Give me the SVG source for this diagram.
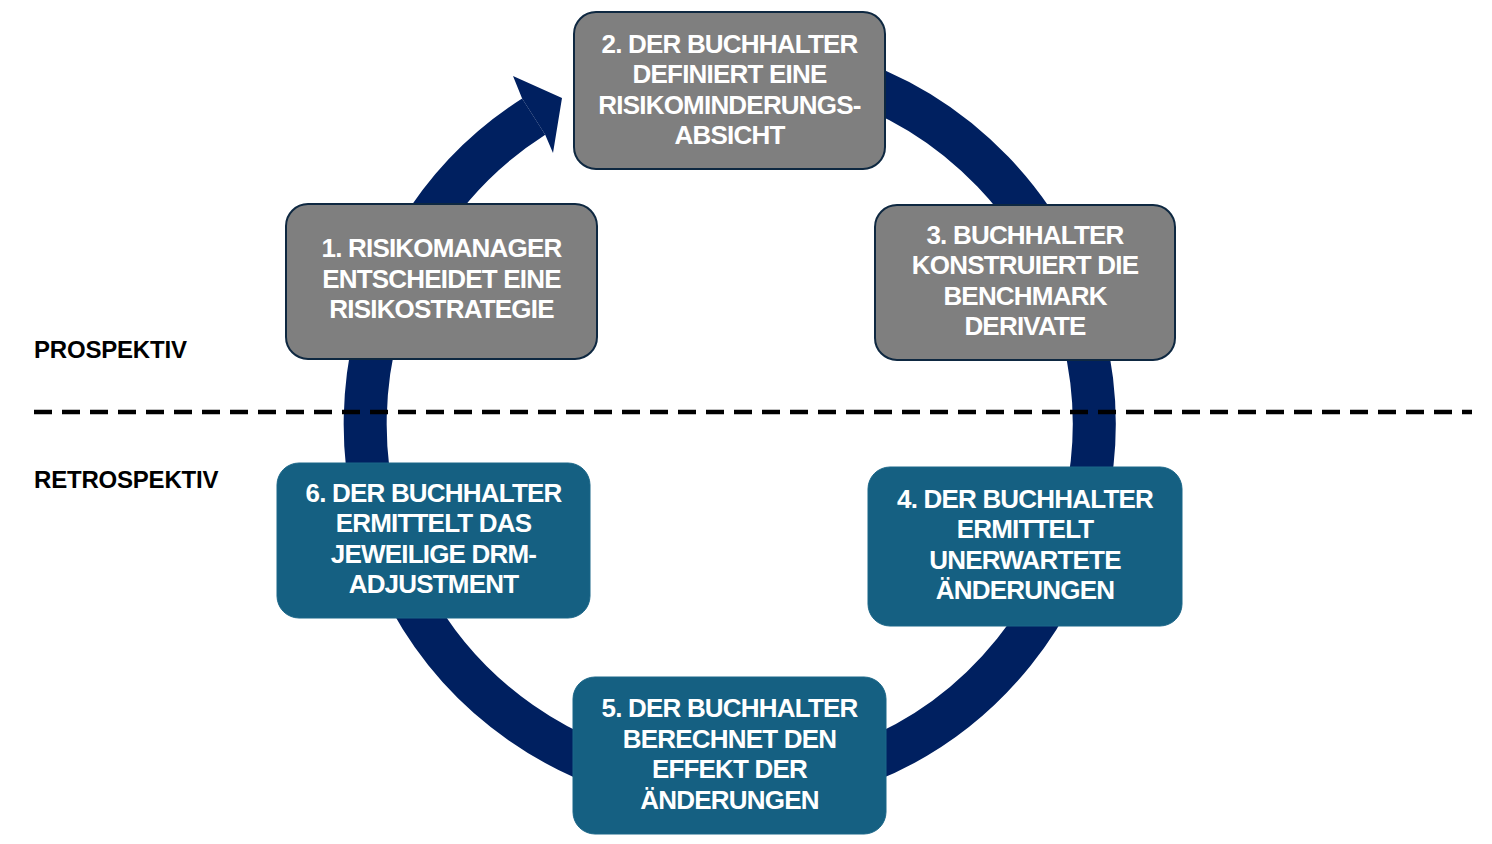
<svg xmlns="http://www.w3.org/2000/svg" width="1492" height="844" viewBox="0 0 1492 844">
<style>
.box-gray{fill:#7F7F7F;stroke:#0E2841;stroke-width:2}
.box-teal{fill:#156082;stroke:#1A6688;stroke-width:1}
.t{font-family:"Liberation Sans",Arial,sans-serif;font-weight:bold;font-size:26px;fill:#FFFFFF;text-anchor:middle;letter-spacing:-0.8px}
.lbl{font-family:"Liberation Sans",Arial,sans-serif;font-weight:bold;font-size:24px;fill:#000000;letter-spacing:-0.2px}
.ring{fill:none;stroke:#002060;stroke-width:43}
</style>
<rect width="1492" height="844" fill="#FFFFFF"/>
<g id="connectors">
<path class="ring" d="M 666.2 65.0 A 364.5 364.5 0 1 1 533.7 116.6"/>
<polygon fill="#002060" points="522.1,98.4 513,76 562,98 553,153 545.2,134.7"/>
</g>
<g id="divider">
<line x1="34" y1="412" x2="1472" y2="412" stroke="#000000" stroke-width="4.5" stroke-dasharray="18 10"/>
<text class="lbl" x="34" y="358">PROSPEKTIV</text>
<text class="lbl" x="34" y="488">RETROSPEKTIV</text>
</g>
<g id="node2">
<rect class="box-gray" x="574" y="12" width="311" height="157" rx="22"/>
<text class="t" x="729.5" y="53">2. DER BUCHHALTER</text>
<text class="t" x="729.5" y="83">DEFINIERT EINE</text>
<text class="t" x="729.5" y="114">RISIKOMINDERUNGS-</text>
<text class="t" x="729.5" y="144">ABSICHT</text>
</g>
<g id="node1">
<rect class="box-gray" x="286" y="204" width="311" height="155" rx="22"/>
<text class="t" x="441.5" y="257">1. RISIKOMANAGER</text>
<text class="t" x="441.5" y="288">ENTSCHEIDET EINE</text>
<text class="t" x="441.5" y="318">RISIKOSTRATEGIE</text>
</g>
<g id="node3">
<rect class="box-gray" x="875" y="205" width="300" height="155" rx="22"/>
<text class="t" x="1025" y="244">3. BUCHHALTER</text>
<text class="t" x="1025" y="274">KONSTRUIERT DIE</text>
<text class="t" x="1025" y="305">BENCHMARK</text>
<text class="t" x="1025" y="335">DERIVATE</text>
</g>
<g id="node4">
<rect class="box-teal" x="868" y="467" width="314" height="159" rx="22"/>
<text class="t" x="1025" y="508">4. DER BUCHHALTER</text>
<text class="t" x="1025" y="538">ERMITTELT</text>
<text class="t" x="1025" y="569">UNERWARTETE</text>
<text class="t" x="1025" y="599">ÄNDERUNGEN</text>
</g>
<g id="node5">
<rect class="box-teal" x="573" y="677" width="313" height="157" rx="22"/>
<text class="t" x="729.5" y="717">5. DER BUCHHALTER</text>
<text class="t" x="729.5" y="748">BERECHNET DEN</text>
<text class="t" x="729.5" y="778">EFFEKT DER</text>
<text class="t" x="729.5" y="809">ÄNDERUNGEN</text>
</g>
<g id="node6">
<rect class="box-teal" x="277" y="463" width="313" height="155" rx="22"/>
<text class="t" x="433.5" y="502">6. DER BUCHHALTER</text>
<text class="t" x="433.5" y="532">ERMITTELT DAS</text>
<text class="t" x="433.5" y="563">JEWEILIGE DRM-</text>
<text class="t" x="433.5" y="593">ADJUSTMENT</text>
</g>
</svg>
